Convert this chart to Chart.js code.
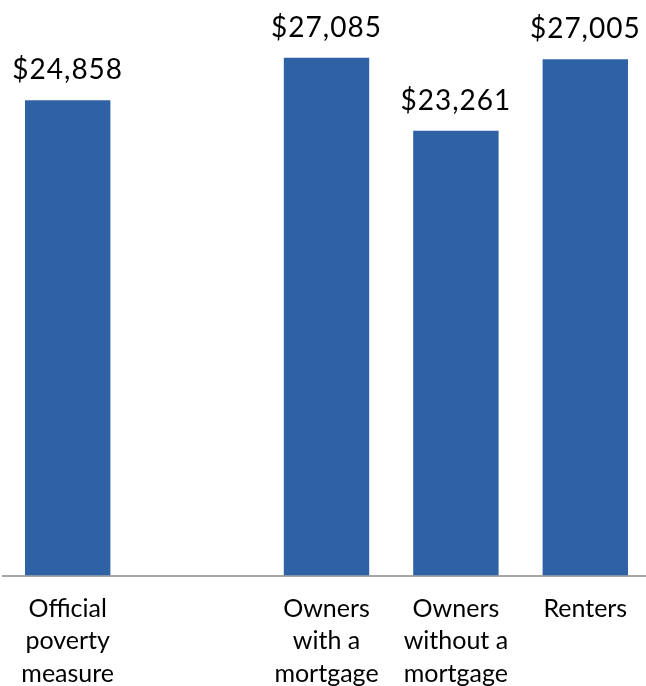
<!DOCTYPE html>
<html>
<head>
<meta charset="utf-8">
<script src="https://cdn.jsdelivr.net/npm/chart.js@4/dist/chart.umd.min.js"></script>
<style>
  html, body { margin: 0; padding: 0; background: #fff; overflow: hidden; }
  #wrap { width: 650px; height: 699px; }
</style>
</head>
<body>
<div id="wrap"><canvas id="chart"></canvas></div>
<script>
// Categories (empty slot keeps the gap after the official measure)
const categories = [
    ['Official', 'poverty', 'measure'],
    '',
    ['Owners', 'with a', 'mortgage'],
    ['Owners', 'without a', 'mortgage'],
    'Renters'
];
const thresholds = [24858, null, 27085, 23261, 27005];

const fontFamily = 'Lato, "Open Sans", sans-serif';

// Draw the dollar labels above each bar
const valueLabels = {
    id: 'valueLabels',
    afterDatasetsDraw(chart) {
        const ctx = chart.ctx;
        const meta = chart.getDatasetMeta(0);
        ctx.save();
        ctx.font = '28px ' + fontFamily;
        ctx.fillStyle = '#000';
        ctx.textAlign = 'center';
        ctx.textBaseline = 'alphabetic';
        ctx.letterSpacing = '1px';
        meta.data.forEach((bar, i) => {
            const v = thresholds[i];
            if (v == null) return;
            ctx.fillText('$' + v.toLocaleString('en-US'), bar.x, bar.y - 21);
        });
        ctx.restore();
    }
};

new Chart(document.getElementById('chart').getContext('2d'), {
    type: 'bar',
    data: {
        labels: categories,
        datasets: [{
            data: thresholds,
            backgroundColor: '#2F62A5',
            categoryPercentage: 1,
            barPercentage: 0.66
        }]
    },
    options: {
        responsive: true,
        maintainAspectRatio: false,
        animation: false,
        layout: { padding: { left: 3, right: 0, top: 0, bottom: 0 } },
        plugins: {
            legend: { display: false },
            tooltip: { enabled: false }
        },
        scales: {
            x: {
                grid: { display: false },
                border: { display: true, color: '#a6a6a6', width: 2 },
                ticks: {
                    color: '#000',
                    font: { family: fontFamily, size: 25, lineHeight: 1.3 },
                    padding: 9,
                    autoSkip: false,
                    maxRotation: 0
                }
            },
            y: {
                display: false,
                min: 0,
                max: 30100
            }
        }
    },
    plugins: [valueLabels]
});
</script>
</body>
</html>
